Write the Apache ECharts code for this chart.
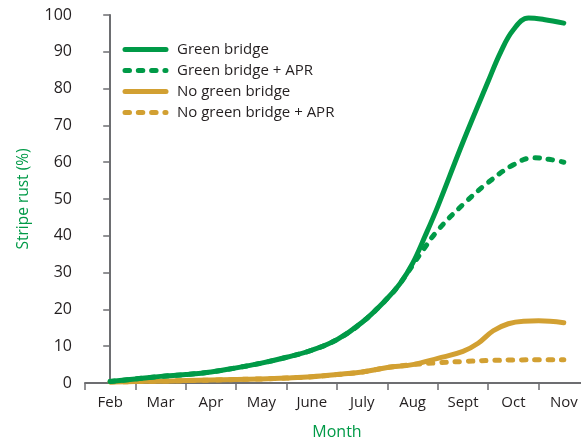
<!DOCTYPE html>
<html>
<head>
<meta charset="utf-8">
<script src="https://cdn.jsdelivr.net/npm/echarts@6/dist/echarts.min.js"></script>
<style>html,body{margin:0;padding:0;background:#fff}#c{width:581px;height:443px}</style>
</head>
<body>
<div id="c"></div>
<script>
const months = ['Feb','Mar','Apr','May','June','July','Aug','Sept','Oct','Nov'];
const yTicks = [0,10,20,30,40,50,60,70,80,90,100];

const gbX = [0,0.5,1,1.5,2,2.5,3,3.5,4,4.5,5,5.5,5.75,6,6.25,6.5,7,7.5,7.75,8,8.3,8.6,9];
const gbY = [0.4,1.1,1.8,2.3,3.0,4.1,5.4,7.0,8.9,11.8,16.5,23,27,32.5,40,48,65.5,82,90,96,99.2,98.8,97.8];

const gbaX = [0,0.5,1,1.5,2,2.5,3,3.5,4,4.5,5,5.5,5.75,6,6.2,6.5,7,7.5,8,8.4,8.7,9];
const gbaY = [0.4,1.1,1.8,2.3,3.0,4.1,5.4,7.0,8.9,11.8,16.5,23,27,32,36,41.5,48.5,54.5,59.3,61.2,60.8,60];

const ngX = [0,0.5,1,1.5,2,2.5,3,3.5,4,4.5,5,5.5,6,6.5,7,7.3,7.6,7.9,8.2,8.5,9];
const ngY = [0.3,0.4,0.5,0.65,0.8,0.95,1.1,1.35,1.7,2.3,3.0,4.2,5.0,6.7,8.6,10.8,14.2,16.1,16.8,16.9,16.4];

const ngaX = [0,0.5,1,1.5,2,2.5,3,3.5,4,4.5,5,5.5,6,6.5,7,7.5,8,8.5,9];
const ngaY = [0.3,0.4,0.5,0.65,0.8,0.95,1.1,1.35,1.7,2.3,3.0,4.2,5.0,5.5,5.85,6.1,6.25,6.3,6.3];

const GREEN = '#009a47';
const GOLD = '#d2a032';
const TXT = '#231f20';
const AXIS = '#6d6e71';

function pairs(xs, ys){ return xs.map((x,i)=>[x, ys[i]]); }

function series(name, xs, ys, color, dashed){
  return {
    name, type:'line', xAxisIndex:1, data:pairs(xs,ys),
    smooth:0.4, symbol:'none', showSymbol:false, animation:false,
    lineStyle:{color, width:5, type: dashed ? [4.5,8.8] : 'solid', cap:'round', join:'round'},
    itemStyle:{color}
  };
}

const chart = echarts.init(document.getElementById('c'));
chart.setOption({
  animation:false,
  grid:{left:85, right:-8, top:15, bottom:60, containLabel:false, outerBoundsMode:'none'},
  legend:{
    orient:'vertical', left:117.5, top:37, itemWidth:41, itemHeight:14, itemGap:6,
    itemStyle:{opacity:0},
    lineStyle:{width:5, cap:'round'},
    textStyle:{fontFamily:'Open Sans', fontSize:15, color:TXT, padding:[0,0,0,6]},
    data:['Green bridge','Green bridge + APR','No green bridge','No green bridge + APR']
  },
  xAxis:[{
    type:'category', data:months, boundaryGap:true,
    name:'Month', nameLocation:'middle', nameGap:41,
    nameTextStyle:{color:GREEN, fontFamily:'Open Sans', fontSize:16},
    axisLine:{lineStyle:{color:AXIS, width:2}},
    axisTick:{show:true, length:7, lineStyle:{color:AXIS, width:1.5}},
    axisLabel:{color:TXT, fontFamily:'Open Sans', fontSize:15, margin:12},
    splitLine:{show:false}
  },{
    type:'value', min:-0.5, max:9.5, show:false
  }],
  yAxis:{
    type:'value', min:0, max:100, interval:10,
    name:'Stripe rust (%)', nameLocation:'middle', nameGap:53,
    nameTextStyle:{color:GREEN, fontFamily:'Open Sans', fontSize:15.5},
    axisLine:{show:true, lineStyle:{color:AXIS, width:2}},
    axisTick:{show:true, length:7, lineStyle:{color:AXIS, width:1.5}},
    axisLabel:{color:TXT, fontFamily:'Open Sans', fontSize:16, margin:13,
      formatter:(v)=> yTicks.includes(v) ? String(v) : ''},
    splitLine:{show:false}
  },
  series:[
    series('No green bridge + APR', ngaX, ngaY, GOLD, true),
    series('No green bridge', ngX, ngY, GOLD, false),
    series('Green bridge + APR', gbaX, gbaY, GREEN, true),
    series('Green bridge', gbX, gbY, GREEN, false)
  ]
});
</script>
</body>
</html>
